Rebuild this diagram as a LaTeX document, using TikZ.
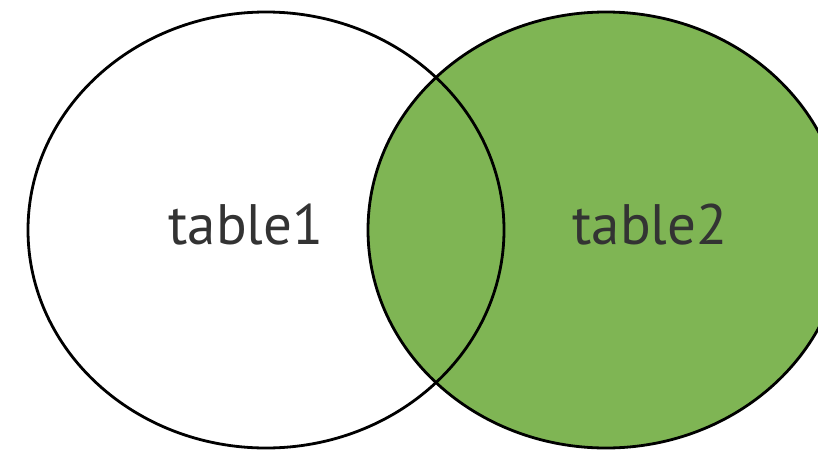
\documentclass[tikz,border=0pt]{standalone}
\usepackage{fontspec}
\setmainfont{PT Sans}
\definecolor{vgreen}{HTML}{7FB554}
\definecolor{vtext}{HTML}{333333}
\begin{document}
\begin{tikzpicture}[x=1pt,y=-1pt,
  setline/.style={draw=black,line width=2.8pt},
  lbl/.style={text=vtext,font=\fontsize{57}{62}\selectfont,inner sep=0pt,anchor=base}]
\useasboundingbox (0,0) rectangle (818,453);
\clip (0,0) rectangle (818,453);
\coordinate (c1) at (266,230);
\coordinate (c2) at (606,230);
\fill[vgreen] (c2) ellipse [x radius=238, y radius=218];
\draw[setline] (c1) ellipse [x radius=238, y radius=218];
\draw[setline] (c2) ellipse [x radius=238, y radius=218];
\node[lbl] (t1) at (246,244) {table1};
\node[lbl] (t2) at (650,244) {table2};
\end{tikzpicture}
\end{document}
